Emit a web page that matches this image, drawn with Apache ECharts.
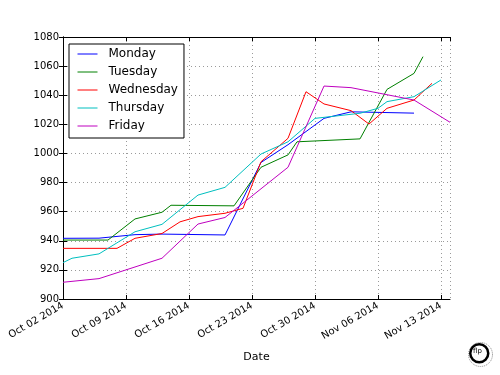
<!DOCTYPE html>
<html>
<head>
<meta charset="utf-8">
<script src="https://cdn.jsdelivr.net/npm/echarts@6/dist/echarts.min.js"></script>
<style>
  html, body { margin: 0; padding: 0; background: #fff; }
  #chart { width: 500px; height: 375px; }
</style>
</head>
<body>
<div id="chart"></div>
<script>
// readings, one date/value list per weekday
const mondayDates = ["2014-10-02", "2014-10-06", "2014-10-10", "2014-10-13", "2014-10-20", "2014-10-24", "2014-10-27", "2014-10-31", "2014-11-03", "2014-11-10"];
const mondayValues = [941.7, 941.8, 944.2, 944.6, 944.0, 993.8, 1006.0, 1024.1, 1028.6, 1027.7];

const tuesdayDates = ["2014-10-02", "2014-10-07", "2014-10-10", "2014-10-13", "2014-10-14", "2014-10-21", "2014-10-24", "2014-10-27", "2014-10-28", "2014-11-04", "2014-11-07", "2014-11-10", "2014-11-11"];
const tuesdayValues = [940.5, 940.5, 955.0, 959.6, 964.4, 964.0, 990.5, 999.0, 1008.0, 1010.0, 1044.0, 1055.0, 1066.5];

const wednesdayDates = ["2014-10-02", "2014-10-08", "2014-10-10", "2014-10-13", "2014-10-15", "2014-10-17", "2014-10-20", "2014-10-22", "2014-10-24", "2014-10-27", "2014-10-29", "2014-10-31", "2014-11-03", "2014-11-05", "2014-11-07", "2014-11-10", "2014-11-12"];
const wednesdayValues = [934.8, 934.8, 941.7, 945.0, 953.0, 956.6, 958.9, 962.3, 994.3, 1010.4, 1042.4, 1034.0, 1029.4, 1020.2, 1031.0, 1036.7, 1048.2];

const thursdayDates = ["2014-10-02", "2014-10-03", "2014-10-06", "2014-10-10", "2014-10-13", "2014-10-17", "2014-10-20", "2014-10-24", "2014-10-27", "2014-10-30", "2014-11-04", "2014-11-06", "2014-11-07", "2014-11-10", "2014-11-13"];
const thursdayValues = [925.0, 928.0, 931.0, 946.2, 951.3, 971.4, 976.7, 999.6, 1008.0, 1024.1, 1027.6, 1031.0, 1035.6, 1039.0, 1050.5];

const fridayDates = ["2014-10-02", "2014-10-06", "2014-10-13", "2014-10-17", "2014-10-20", "2014-10-27", "2014-10-31", "2014-11-03", "2014-11-10", "2014-11-14"];
const fridayValues = [911.5, 914.0, 928.0, 951.5, 956.0, 990.5, 1046.3, 1045.2, 1036.7, 1021.4];

const startDate = "2014-10-02";
const endDate = "2014-11-14";
const yTicks = { min: 900, max: 1080, step: 20 };

const DAY = 86400000;
const MONTHS = ["Jan", "Feb", "Mar", "Apr", "May", "Jun", "Jul", "Aug", "Sep", "Oct", "Nov", "Dec"];
const t0 = Date.parse(startDate);

function dayOffset(s) {
  return Math.round((Date.parse(s) - t0) / DAY);
}
function dateLabel(d) {
  const dt = new Date(t0 + d * DAY);
  const dd = String(dt.getUTCDate()).padStart(2, "0");
  return MONTHS[dt.getUTCMonth()] + " " + dd + " " + dt.getUTCFullYear();
}
function pairs(dates, values) {
  return dates.map((d, i) => [dayOffset(d), values[i]]);
}

const font = "DejaVu Sans";
const gridLine = { show: true, lineStyle: { color: "#9a9a9a", type: [1, 3], width: 1 } };
const frame = { show: true, lineStyle: { color: "#000", width: 1 } };
const ticksIn = { show: true, inside: true, length: 4, lineStyle: { color: "#000" } };

const series = [
  { name: "Monday", color: "#0000ff", data: pairs(mondayDates, mondayValues) },
  { name: "Tuesday", color: "#008000", data: pairs(tuesdayDates, tuesdayValues) },
  { name: "Wednesday", color: "#ff0000", data: pairs(wednesdayDates, wednesdayValues) },
  { name: "Thursday", color: "#00bfbf", data: pairs(thursdayDates, thursdayValues) },
  { name: "Friday", color: "#bf00bf", data: pairs(fridayDates, fridayValues) },
].map((s) => ({
  name: s.name,
  type: "line",
  data: s.data,
  symbol: "none",
  color: s.color,
  lineStyle: { width: 1, color: s.color },
  animation: false,
}));

const chart = echarts.init(document.getElementById("chart"));
chart.setOption({
  backgroundColor: "#fff",
  textStyle: { fontFamily: font },
  grid: { left: 63, right: 50, top: 37, bottom: 76 },
  legend: {
    orient: "vertical",
    left: 69,
    top: 44,
    padding: [4, 6, 6, 8],
    itemGap: 6,
    itemWidth: 20,
    itemHeight: 14,
    itemStyle: { opacity: 0 },
    lineStyle: { width: 1 },
    borderColor: "#000",
    borderWidth: 1,
    backgroundColor: "#fff",
    textStyle: { fontSize: 12, color: "#000", fontFamily: font, padding: [0, 0, 0, 6] },
    data: series.map((s) => s.name),
  },
  xAxis: [
    {
      type: "value",
      min: 0,
      max: dayOffset(endDate),
      interval: 7,
      name: "Date",
      nameLocation: "middle",
      nameGap: 53,
      nameTextStyle: { fontSize: 11, color: "#000", fontFamily: font },
      axisLine: frame,
      axisTick: ticksIn,
      splitLine: gridLine,
      axisLabel: {
        rotate: 30,
        fontSize: 10,
        color: "#000",
        margin: 6,
        showMaxLabel: false,
        formatter: dateLabel,
      },
    },
    {
      type: "value",
      position: "top",
      min: 0,
      max: dayOffset(endDate),
      interval: 7,
      axisLine: frame,
      axisTick: ticksIn,
      axisLabel: { show: false },
      splitLine: { show: false },
    },
  ],
  yAxis: [
    {
      type: "value",
      min: yTicks.min,
      max: yTicks.max,
      interval: yTicks.step,
      axisLine: frame,
      axisTick: ticksIn,
      splitLine: gridLine,
      axisLabel: { fontSize: 10, color: "#000", margin: 4, formatter: (v) => String(v) },
    },
    {
      type: "value",
      position: "right",
      min: yTicks.min,
      max: yTicks.max,
      interval: yTicks.step,
      axisLine: frame,
      axisTick: ticksIn,
      axisLabel: { show: false },
      splitLine: { show: false },
    },
  ],
  graphic: [
    { type: "circle", left: 466, top: 340, shape: { r: 12 }, style: { fill: "none", stroke: "#888", lineWidth: 1, lineDash: [1, 1] } },
    { type: "circle", left: 469, top: 343, shape: { r: 9 }, style: { fill: "#fff", stroke: "#000", lineWidth: 2.5 } },
    { type: "text", left: 473, top: 348, style: { text: "flp", fontSize: 7, fill: "#000", fontFamily: font } },
  ],
  series: series,
});
</script>
</body>
</html>
